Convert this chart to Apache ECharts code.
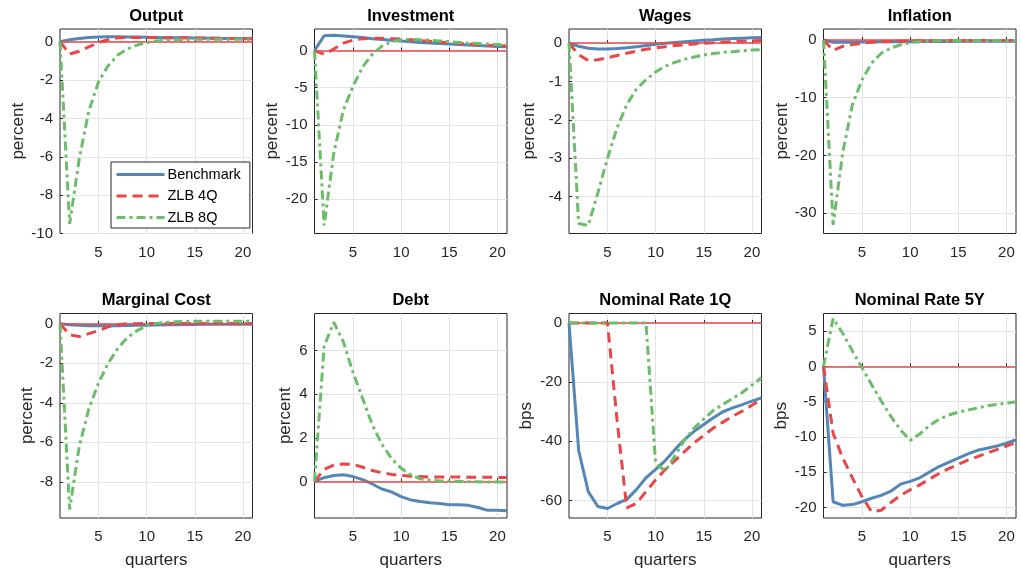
<!DOCTYPE html>
<html>
<head>
<meta charset="utf-8">
<script src="https://cdn.jsdelivr.net/npm/echarts@6/dist/echarts.min.js"></script>
<style>html,body{margin:0;padding:0;background:#fff}#c{width:1021px;height:573px}</style>
</head>
<body>
<div id="c"></div>
<script>
// ---- data ----
var quarters = [1,2,3,4,5,6,7,8,9,10,11,12,13,14,15,16,17,18,19,20,21];
var seriesNames = ['Benchmark', 'ZLB 4Q', 'ZLB 8Q'];
var panelTitles = ['Output', 'Investment', 'Wages', 'Inflation', 'Marginal Cost', 'Debt', 'Nominal Rate 1Q', 'Nominal Rate 5Y'];
var yUnits = ['percent', 'percent', 'percent', 'percent', 'percent', 'percent', 'bps', 'bps'];

var outputBench = [0,0.10,0.17,0.22,0.24,0.25,0.25,0.24,0.24,0.23,0.22,0.21,0.21,0.20,0.19,0.19,0.18,0.17,0.17,0.16,0.15];
var output4Q = [0,-0.65,-0.50,-0.27,-0.05,0.10,0.20,0.22,0.22,0.22,0.21,0.21,0.20,0.20,0.19,0.18,0.18,0.17,0.17,0.16,0.15];
var output8Q = [0,-9.5,-6.1,-3.6,-2.1,-1.25,-0.70,-0.38,-0.18,-0.05,0.03,0.08,0.10,0.11,0.12,0.12,0.12,0.12,0.12,0.12,0.12];

var investBench = [0,2.0,2.05,1.95,1.85,1.75,1.6,1.5,1.4,1.3,1.2,1.1,1.02,0.95,0.88,0.8,0.74,0.68,0.62,0.56,0.5];
var invest4Q = [0,-0.5,0.2,1.0,1.4,1.6,1.65,1.65,1.6,1.55,1.45,1.35,1.25,1.15,1.05,0.95,0.88,0.8,0.73,0.67,0.6];
var invest8Q = [0,-23.5,-13.8,-8.0,-4.8,-2.2,-0.5,0.6,1.2,1.45,1.5,1.45,1.4,1.3,1.2,1.1,1.0,0.95,0.88,0.82,0.76];

var wagesBench = [0,-0.08,-0.13,-0.15,-0.15,-0.14,-0.12,-0.09,-0.06,-0.03,0.0,0.02,0.04,0.06,0.08,0.09,0.11,0.12,0.13,0.14,0.15];
var wages4Q = [0,-0.3,-0.45,-0.43,-0.38,-0.32,-0.26,-0.21,-0.16,-0.12,-0.09,-0.06,-0.04,-0.02,0.0,0.01,0.03,0.04,0.05,0.06,0.07];
var wages8Q = [0,-4.7,-4.75,-3.9,-3.0,-2.2,-1.6,-1.2,-0.95,-0.75,-0.6,-0.5,-0.42,-0.36,-0.31,-0.27,-0.24,-0.22,-0.2,-0.18,-0.17];

var inflBench = [0,-0.4,-0.4,-0.4,-0.35,-0.35,-0.3,-0.3,-0.3,-0.3,-0.28,-0.27,-0.26,-0.25,-0.24,-0.23,-0.22,-0.22,-0.21,-0.2,-0.2];
var infl4Q = [0,-1.8,-1.1,-0.8,-0.55,-0.4,-0.3,-0.25,-0.2,-0.18,-0.16,-0.15,-0.14,-0.13,-0.12,-0.12,-0.11,-0.11,-0.1,-0.1,-0.1];
var infl8Q = [0,-32,-19.5,-11.2,-6.9,-4.0,-2.3,-1.4,-0.85,-0.45,-0.3,-0.2,-0.15,-0.12,-0.1,-0.1,-0.1,-0.1,-0.1,-0.1,-0.1];

var mcBench = [0,-0.05,-0.08,-0.1,-0.1,-0.1,-0.1,-0.09,-0.08,-0.07,-0.06,-0.05,-0.05,-0.04,-0.04,-0.03,-0.03,-0.02,-0.02,-0.02,-0.02];
var mc4Q = [0,-0.55,-0.65,-0.5,-0.35,-0.15,-0.05,0.0,0.0,0.02,0.02,0.02,0.02,0.02,0.02,0.02,0.02,0.02,0.02,0.02,0.02];
var mc8Q = [0,-9.4,-6.2,-4.3,-3.0,-2.0,-1.25,-0.7,-0.35,-0.1,0.02,0.07,0.1,0.12,0.13,0.13,0.13,0.13,0.13,0.13,0.13];

var debtBench = [0,0.17,0.27,0.3,0.22,0.08,-0.12,-0.35,-0.48,-0.7,-0.85,-0.92,-0.98,-1.02,-1.07,-1.07,-1.1,-1.2,-1.33,-1.33,-1.35];
var debt4Q = [0,0.55,0.75,0.8,0.78,0.65,0.5,0.4,0.32,0.27,0.24,0.22,0.2,0.2,0.2,0.2,0.19,0.19,0.19,0.18,0.18];
var debt8Q = [0,6.2,7.3,6.4,5.0,3.8,2.6,1.7,1.05,0.6,0.3,0.12,0.05,0.02,0,0,-0.02,-0.02,-0.03,-0.03,-0.03];

var rate1QBench = [0,-43,-57,-62,-62.7,-61,-59.6,-56.3,-52.3,-49.5,-46.5,-42.8,-39.4,-36.6,-34.3,-32,-30,-28.7,-27.6,-26.4,-25.3];
var rate1Q4Q = [0,0,0,0,0,-33,-62.5,-61,-57,-53,-49.5,-46.5,-43.5,-40.5,-38,-35.5,-33.5,-31.5,-29.8,-27.8,-25.8];
var rate1Q8Q = [0,0,0,0,0,0,0,0,0,-47.5,-50,-45,-39.5,-35.5,-32.5,-29.5,-27.5,-25.5,-23.5,-21,-18.5];

var rate5YBench = [0,-19.2,-19.7,-19.6,-19.2,-18.7,-18.3,-17.7,-16.7,-16.3,-15.8,-15,-14.2,-13.6,-13.0,-12.4,-11.9,-11.6,-11.3,-10.9,-10.4];
var rate5Y4Q = [0,-9.5,-13,-15.8,-18.5,-20.6,-20.4,-19.3,-18.3,-17.5,-16.8,-16,-15.2,-14.5,-13.9,-13.3,-12.8,-12.3,-11.8,-11.3,-10.8];
var rate5Y8Q = [0,6.8,4.7,2.2,-0.2,-2.6,-4.9,-7.1,-9.0,-10.5,-9.6,-8.4,-7.5,-6.9,-6.5,-6.2,-5.9,-5.6,-5.4,-5.2,-5.0];

var xTicks = [5, 10, 15, 20];
var yTicks = [
  [-10,-8,-6,-4,-2,0],
  [-20,-15,-10,-5,0],
  [-4,-3,-2,-1,0],
  [-30,-20,-10,0],
  [-8,-6,-4,-2,0],
  [0,2,4,6],
  [-60,-40,-20,0],
  [-20,-15,-10,-5,0,5]
];
var yMin = [-10, -24.6, -4.96, -33.5, -9.83, -1.68, -65.9, -21.5];
var yMax = [0.66, 2.9, 0.37, 1.9, 0.52, 7.7, 3.2, 7.5];

var panelData = [
  [outputBench, output4Q, output8Q],
  [investBench, invest4Q, invest8Q],
  [wagesBench, wages4Q, wages8Q],
  [inflBench, infl4Q, infl8Q],
  [mcBench, mc4Q, mc8Q],
  [debtBench, debt4Q, debt8Q],
  [rate1QBench, rate1Q4Q, rate1Q8Q],
  [rate5YBench, rate5Y4Q, rate5Y8Q]
];

// ---- layout & style ----
var FONT = "'Liberation Sans', Arial, Helvetica, sans-serif";
var lefts = [60, 314.5, 569, 823.5];
var tops = [29, 313.5];
var W = 192.5, H = 204.5;
var nameGaps = [33.5, 33.5, 31.5, 30.5, 24.5, 20.5, 34.5, 33.5];
var colors = ['#5486b6', '#e8474a', '#6cbd69'];
var dashes = ['solid', [10, 6], [9, 4, 3, 4]];

var option = {
  animation: false,
  backgroundColor: '#ffffff',
  textStyle: { fontFamily: FONT },
  grid: [], xAxis: [], yAxis: [], series: [], graphic: [],
  legend: {
    data: seriesNames,
    orient: 'vertical',
    left: 111, top: 162,
    itemWidth: 48, itemHeight: 14, itemGap: 6.5,
    padding: [5, 9, 3, 4],
    backgroundColor: '#ffffff',
    borderColor: '#262626', borderWidth: 1, borderRadius: 0,
    itemStyle: { opacity: 0, borderWidth: 0 },
    lineStyle: { width: 3 },
    textStyle: { fontFamily: FONT, fontSize: 14.5, color: '#000', padding: [0, 0, 0, -2] },
    z: 20
  }
};

for (var p = 0; p < 8; p++) {
  var col = p % 4, row = Math.floor(p / 4);
  var L = lefts[col], T = tops[row];
  option.grid.push({ left: L, top: T, width: W, height: H, show: true, borderColor: '#262626', borderWidth: 1, backgroundColor: '#fff', containLabel: false });
  option.xAxis.push({
    type: 'value', gridIndex: p, min: 1, max: 21,
    name: row === 1 ? 'quarters' : '', nameLocation: 'middle', nameGap: 34,
    nameTextStyle: { fontSize: 17, color: '#262626', fontFamily: FONT },
    axisLine: { show: false },
    axisTick: { show: true, inside: true, length: 3, customValues: xTicks, lineStyle: { color: '#262626' } },
    axisLabel: { customValues: xTicks, fontSize: 15, color: '#262626', margin: 11.5, fontFamily: FONT },
    splitLine: { show: true, lineStyle: { color: '#e3e3e3', width: 1 } }
  });
  option.yAxis.push({
    type: 'value', gridIndex: p, min: yMin[p], max: yMax[p],
    name: yUnits[p], nameLocation: 'middle', nameGap: nameGaps[p], nameRotate: 90,
    nameTextStyle: { fontSize: 17, color: '#262626', fontFamily: FONT },
    axisLine: { show: false },
    axisTick: { show: true, inside: true, length: 3, customValues: yTicks[p], lineStyle: { color: '#262626' } },
    axisLabel: { customValues: yTicks[p], fontSize: 15, color: '#262626', margin: 7, fontFamily: FONT },
    splitLine: { show: true, lineStyle: { color: '#e3e3e3', width: 1 } }
  });
  option.graphic.push({
    type: 'text', x: L + W / 2, y: T - 13,
    style: { text: panelTitles[p], font: 'bold 16.5px ' + FONT, fill: '#000', textAlign: 'center', textVerticalAlign: 'middle' },
    z: 30
  });
  for (var s = 0; s < 3; s++) {
    var d = [];
    for (var i = 0; i < quarters.length; i++) d.push([quarters[i], panelData[p][s][i]]);
    var ser = {
      type: 'line', name: seriesNames[s], xAxisIndex: p, yAxisIndex: p,
      data: d, symbol: 'none', showSymbol: false, clip: true,
      lineStyle: { color: colors[s], width: 3, type: dashes[s] },
      itemStyle: { color: colors[s] },
      z: 3 + s
    };
    if (s === 0) {
      ser.markLine = {
        silent: true, symbol: 'none', animation: false,
        label: { show: false },
        lineStyle: { color: '#e8474a', width: 1.5, type: 'solid' },
        data: [{ yAxis: 0 }]
      };
    }
    option.series.push(ser);
  }
}

var chart = echarts.init(document.getElementById('c'), null, { renderer: 'canvas' });
chart.setOption(option);
</script>
</body>
</html>
